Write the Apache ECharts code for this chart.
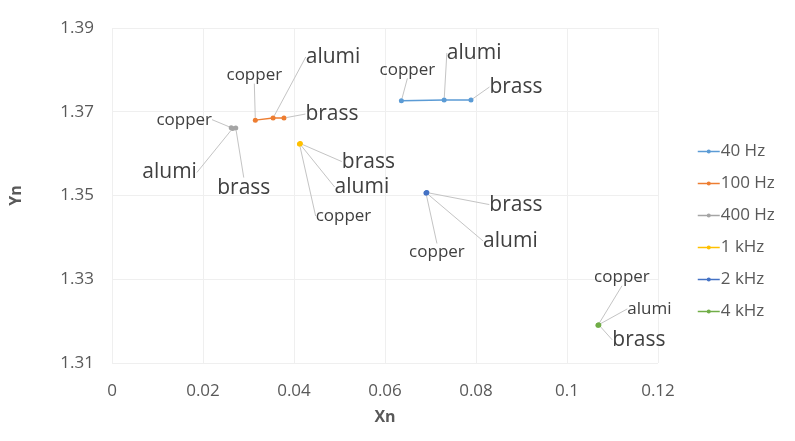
<!DOCTYPE html>
<html>
<head>
<meta charset="utf-8">
<script src="https://cdn.jsdelivr.net/npm/echarts@6/dist/echarts.min.js"></script>
<style>
  html, body { margin: 0; padding: 0; background: #ffffff; }
  #chart { width: 795px; height: 441px; }
</style>
</head>
<body>
<div id="chart"></div>
<script>
// Sample materials, in the order each series lists them
const materials = ['copper', 'alumi', 'brass'];
const seriesNames = ['40 Hz', '100 Hz', '400 Hz', '1 kHz', '2 kHz', '4 kHz'];

// Normalised coordinates (Xn, Yn) per frequency: copper, alumi, brass
const xn40  = [0.0636, 0.0730, 0.0789];
const yn40  = [1.3726, 1.3728, 1.3728];
const xn100 = [0.0315, 0.0354, 0.0378];
const yn100 = [1.3680, 1.3685, 1.3685];
const xn400 = [0.0262, 0.0265, 0.0272];
const yn400 = [1.3662, 1.3660, 1.3661];
const xn1k  = [0.0412, 0.0413, 0.0414];
const yn1k  = [1.3623, 1.3623, 1.3624];
const xn2k  = [0.0690, 0.0691, 0.0692];
const yn2k  = [1.3506, 1.3506, 1.3507];
const xn4k  = [0.1068, 0.1069, 0.1070];
const yn4k  = [1.3190, 1.3191, 1.3191];

const xTicks = [0, 0.02, 0.04, 0.06, 0.08, 0.1, 0.12];
const yTicks = [1.31, 1.33, 1.35, 1.37, 1.39];

const xnAll = [xn40, xn100, xn400, xn1k, xn2k, xn4k];
const ynAll = [yn40, yn100, yn400, yn1k, yn2k, yn4k];

// Styling
const colors = ['#5B9BD5', '#ED7D31', '#A5A5A5', '#FFC000', '#4472C4', '#70AD47'];
const font = '"Open Sans", "Noto Sans", sans-serif';

// Label placement relative to each marker (pixels: dx, dy of label centre)
const labelOffsets = [
  [[6, -31], [30, -47], [45, -13]],
  [[-1, -45], [60, -61], [48, -4]],
  [[-47, -8], [-63, 44], [8, 60]],
  [[44, 72], [62, 43], [68, 18]],
  [[11, 59], [84, 48], [89, 12]],
  [[24, -48], [51, -16], [40, 15]]
];
const labelSizes = [
  [17, 21, 21],
  [17, 21, 21],
  [17, 21, 21],
  [17, 21, 21],
  [17, 21, 21],
  [17, 17, 21]
];

const series = seriesNames.map((name, si) => ({
  name: name,
  type: 'line',
  symbol: 'circle',
  symbolSize: 5,
  lineStyle: { width: 1.5, color: colors[si] },
  itemStyle: { color: colors[si] },
  data: materials.map((m, i) => ({
    name: m,
    value: [xnAll[si][i], ynAll[si][i]],
    label: { fontSize: labelSizes[si][i] }
  })),
  label: {
    show: true,
    position: 'inside',
    formatter: '{b}',
    color: '#404040',
    fontFamily: font
  },
  labelLine: {
    show: true,
    lineStyle: { color: '#c4c4c4', width: 1 }
  },
  labelLayout: function (p) {
    const off = labelOffsets[p.seriesIndex][p.dataIndex];
    return {
      x: p.rect.x + p.rect.width / 2 + off[0],
      y: p.rect.y + p.rect.height / 2 + off[1],
      align: 'center',
      verticalAlign: 'middle'
    };
  },
  emphasis: { disabled: true },
  animation: false
}));

const chart = echarts.init(document.getElementById('chart'), null, { renderer: 'canvas' });
chart.setOption({
  backgroundColor: '#ffffff',
  animation: false,
  color: colors,
  grid: { left: 107, right: 137, top: 28, bottom: 78 },
  xAxis: {
    type: 'value',
    min: xTicks[0],
    max: xTicks[xTicks.length - 1],
    interval: xTicks[1] - xTicks[0],
    name: 'Xn',
    nameLocation: 'middle',
    nameGap: 46,
    nameTextStyle: { fontFamily: font, fontSize: 16, fontWeight: 'bold', color: '#595959' },
    axisLine: { show: false },
    axisTick: { show: false },
    axisLabel: { fontFamily: font, fontSize: 17, color: '#595959', margin: 20,
      formatter: v => String(+v.toFixed(2)) },
    splitLine: { show: true, lineStyle: { color: '#efefef', width: 1 } }
  },
  yAxis: {
    type: 'value',
    min: yTicks[0],
    max: yTicks[yTicks.length - 1],
    interval: yTicks[1] - yTicks[0],
    name: 'Yn',
    nameLocation: 'middle',
    nameGap: 88,
    nameRotate: 90,
    nameTextStyle: { fontFamily: font, fontSize: 16, fontWeight: 'bold', color: '#595959' },
    axisLine: { show: false },
    axisTick: { show: false },
    axisLabel: { fontFamily: font, fontSize: 17, color: '#595959', margin: 18,
      formatter: v => v.toFixed(2) },
    splitLine: { show: true, lineStyle: { color: '#efefef', width: 1 } }
  },
  legend: {
    orient: 'vertical',
    left: 692,
    top: 138,
    itemWidth: 22,
    itemHeight: 5,
    itemGap: 15,
    itemStyle: { borderWidth: 0 },
    lineStyle: { width: 1.5 },
    textStyle: { fontFamily: font, fontSize: 17, color: '#595959', padding: [0, 0, 0, -4] },
    data: seriesNames
  },
  series: series
});
</script>
</body>
</html>
